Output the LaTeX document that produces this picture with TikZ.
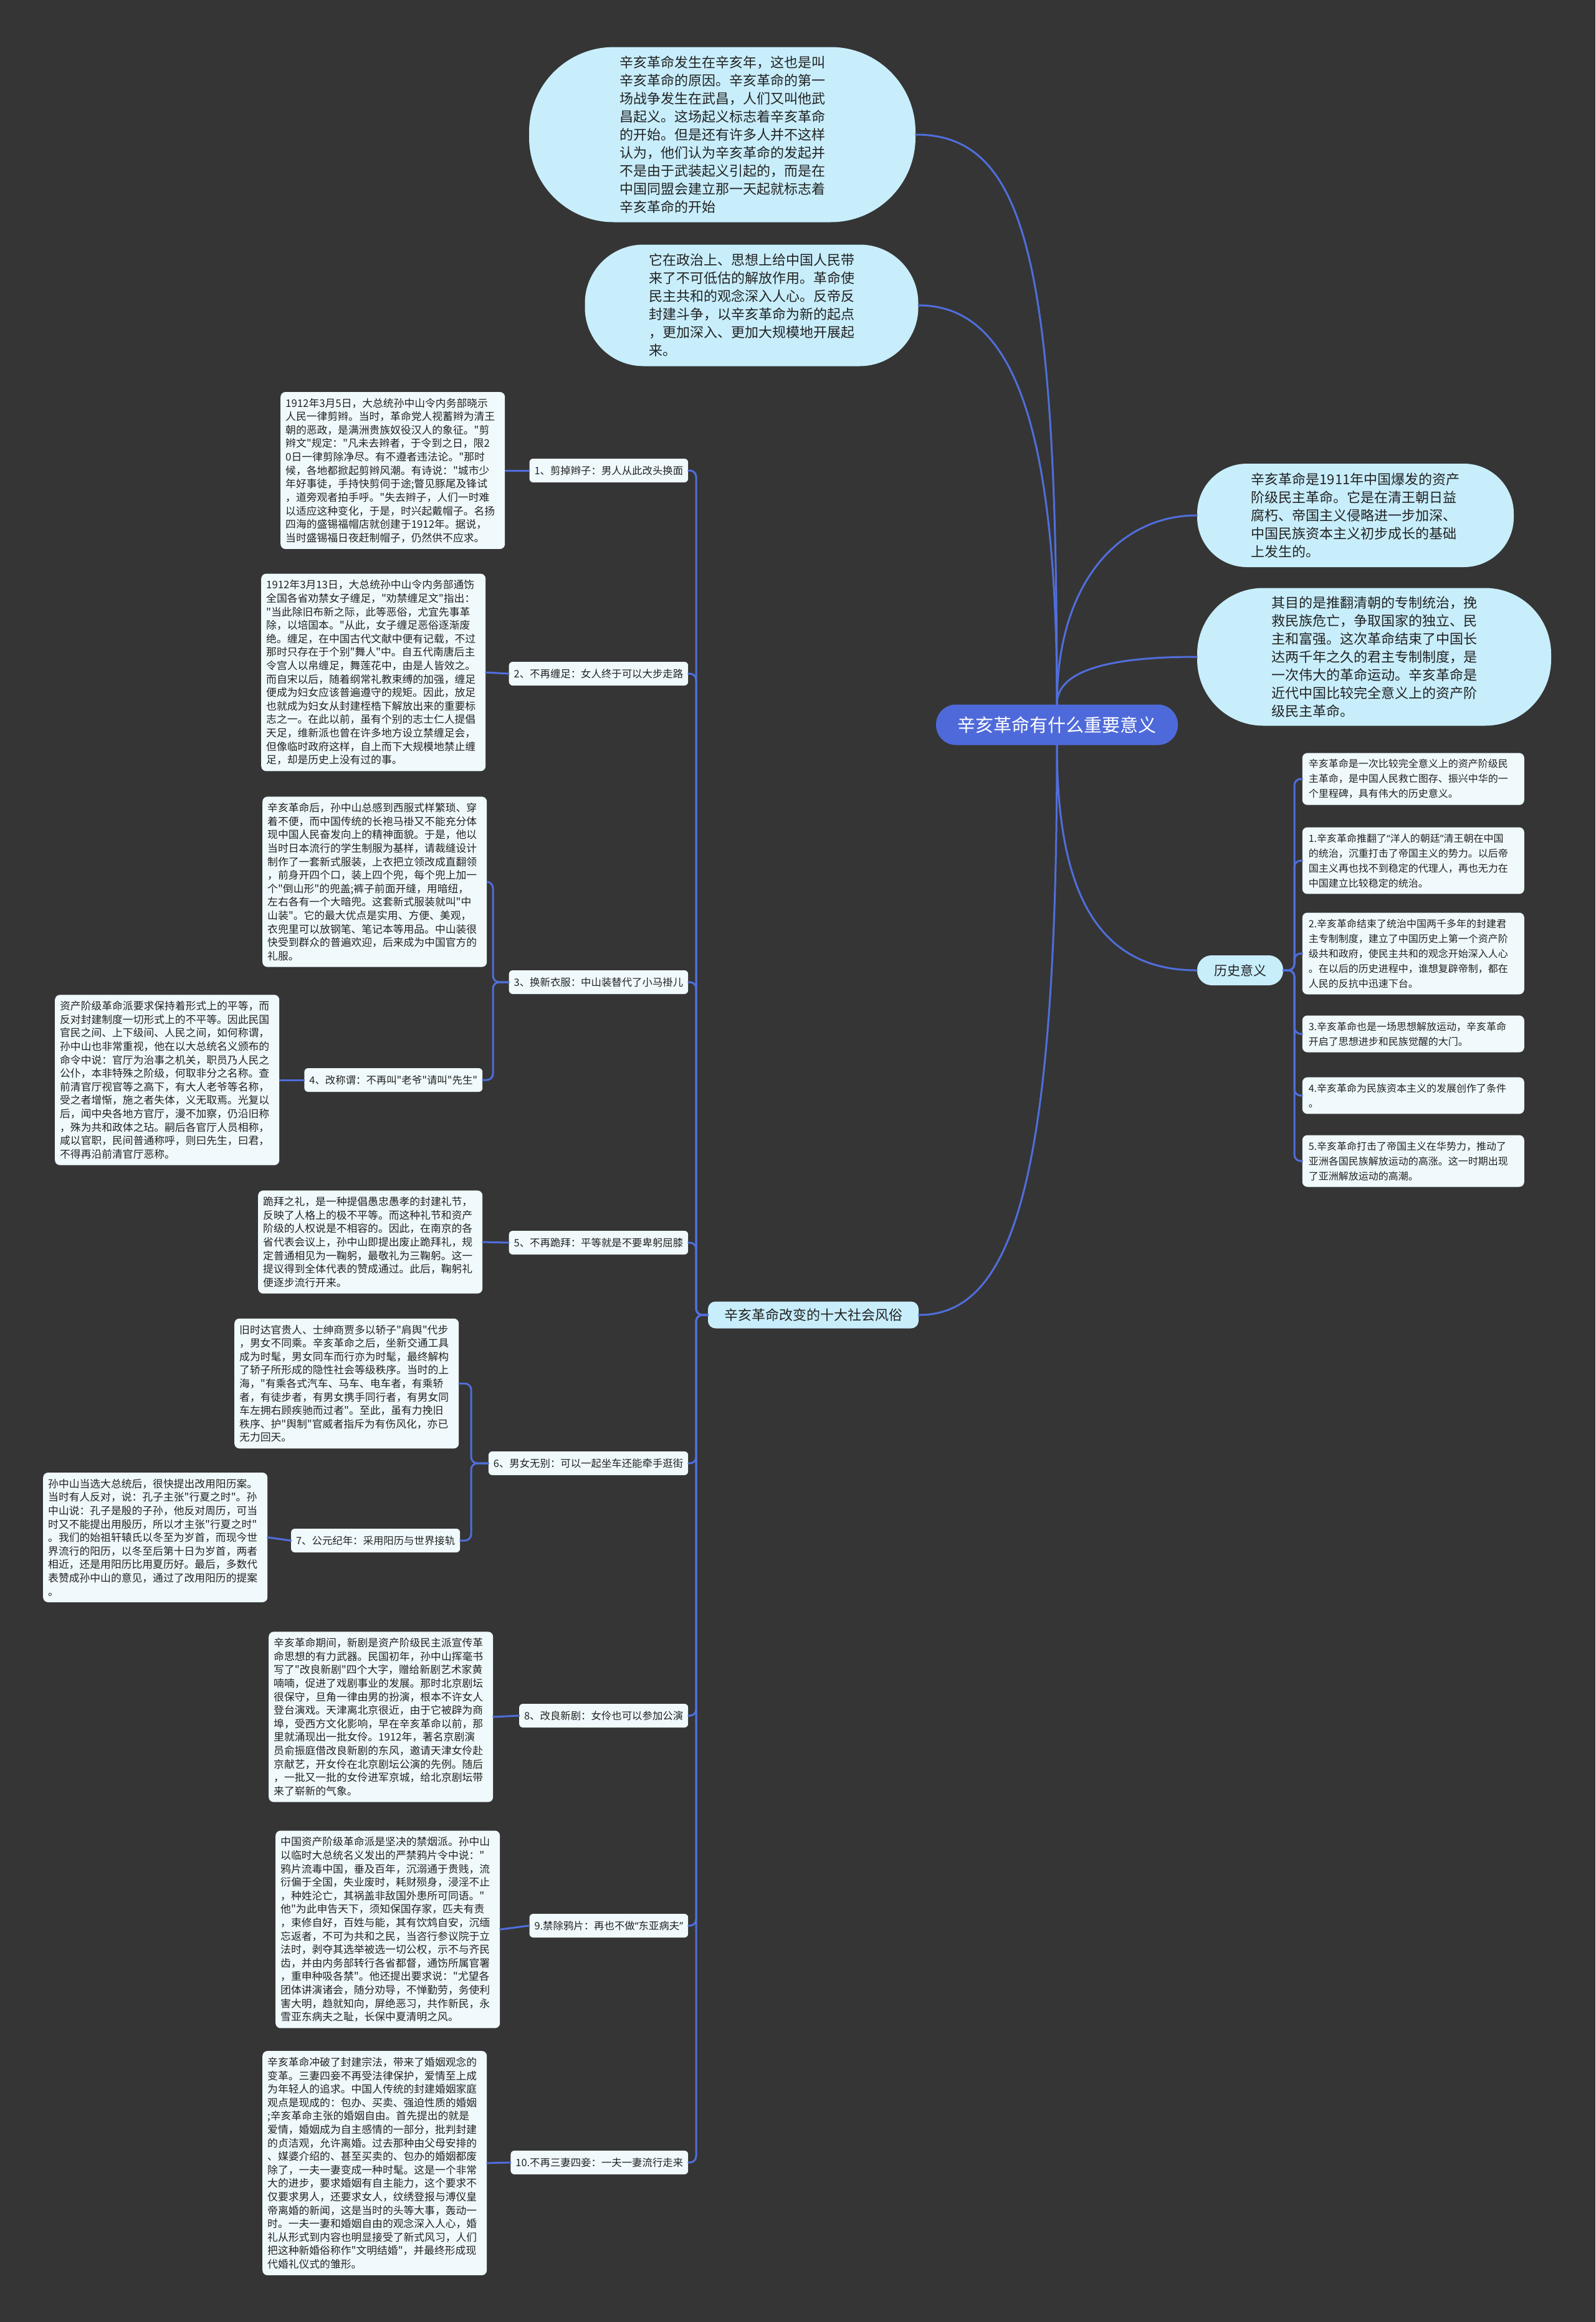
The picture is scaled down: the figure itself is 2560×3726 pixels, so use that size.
\documentclass[tikz,border=0pt]{standalone}
\usepackage{fontspec}
\setmainfont{Noto Sans CJK SC}[Ligatures=TeXOff]
\newfontfamily\latinq{Noto Sans}
\usepackage{tikz}

\begin{document}
\begin{tikzpicture}[x=0.25pt,y=-0.25pt,line cap=rect,
    conn/.style={line width=0.75pt, custcol_50_6e_dc, rounded corners=2.5pt},
    bubble/.style={fill=custcol_c8_ee_fc, text=custcol_22_22_22, align=left, inner sep=0pt,
      font=\fontsize{5.5pt}{7.25pt}\selectfont},
    note/.style={fill=custcol_f0_fa_fc, text=custcol_22_22_22, rounded corners=2pt, anchor=east,
      text width=86pt, inner xsep=2pt, inner ysep=2.5pt, align=left,
      font=\fontsize{4.2pt}{5.4pt}\selectfont},
    topic/.style={fill=custcol_f0_fa_fc, text=custcol_22_22_22, rounded corners=1.5pt, anchor=east,
      inner xsep=2pt, inner ysep=0pt, minimum height=9.5pt, font=\fontsize{4.1pt}{5pt}\selectfont},
    item/.style={fill=custcol_f0_fa_fc, text=custcol_22_22_22, rounded corners=2pt, anchor=west,
      text width=84pt, inner xsep=2.5pt, inner ysep=2.5pt, align=left,
      font=\fontsize{4pt}{6pt}\selectfont},
    branch/.style={fill=custcol_c8_ee_fc, text=custcol_22_22_22, inner sep=0pt}]
  \def\lq{{\latinq “}}
  \def\rq{{\latinq ”}}
  \definecolor{custcol_35_35_35}{RGB}{53, 53, 53}
  \definecolor{custcol_50_6e_dc}{RGB}{80, 110, 220}
  \definecolor{custcol_4e_6a_da}{RGB}{78, 106, 218}
  \definecolor{custcol_c8_ee_fc}{RGB}{200, 238, 252}
  \definecolor{custcol_f0_fa_fc}{RGB}{240, 250, 252}
  \definecolor{custcol_22_22_22}{RGB}{34, 34, 34}
  \fill [custcol_35_35_35] (0,0) rectangle (2560,3726);
  \useasboundingbox (0,0) rectangle (2560,3726);

  % centre
  \node[fill=custcol_4e_6a_da, text=white, rounded corners=8pt, inner sep=0pt, minimum width=97pt,
    minimum height=16.25pt, font=\fontsize{7.25pt}{8pt}\selectfont] (root) at (1696,1163) {辛亥革命有什么重要意义};

  \node[bubble, minimum width=155pt, minimum height=70.25pt, rounded corners=34pt] (bub1) at (1159,216)
    {辛亥革命发生在辛亥年，这也是叫\\辛亥革命的原因。辛亥革命的第一\\场战争发生在武昌，人们又叫他武\\昌起义。这场起义标志着辛亥革命\\的开始。但是还有许多人并不这样\\认为，他们认为辛亥革命的发起并\\不是由于武装起义引起的，而是在\\中国同盟会建立那一天起就标志着\\辛亥革命的开始};
  \node[bubble, minimum width=133.75pt, minimum height=48.75pt, rounded corners=23.5pt] (bub2) at (1206,490)
    {它在政治上、思想上给中国人民带\\来了不可低估的解放作用。革命使\\民主共和的观念深入人心。反帝反\\封建斗争，以辛亥革命为新的起点\\，更加深入、更加大规模地开展起\\来。};
  \node[bubble, minimum width=127pt, minimum height=41.5pt, rounded corners=20pt] (bub3) at (2175,827)
    {辛亥革命是1911年中国爆发的资产\\阶级民主革命。它是在清王朝日益\\腐朽、帝国主义侵略进一步加深、\\中国民族资本主义初步成长的基础\\上发生的。};
  \node[bubble, minimum width=142pt, minimum height=55.25pt, rounded corners=26.5pt] (bub4) at (2205,1054)
    {其目的是推翻清朝的专制统治，挽\\救民族危亡，争取国家的独立、民\\主和富强。这次革命结束了中国长\\达两千年之久的君主专制制度，是\\一次伟大的革命运动。辛亥革命是\\近代中国比较完全意义上的资产阶\\级民主革命。};

  \draw[conn] (root.north) .. controls +(0,-700) and +(180,0) .. (bub1.east);
  \draw[conn] (root.north) .. controls +(0,-450) and +(150,0) .. (bub2.east);
  \draw[conn] (root.north) .. controls +(0,-200) and +(-120,0) .. (bub3.west);
  \draw[conn] (root.north) .. controls +(0,-60) and +(-120,0) .. (bub4.west);

  % history
  \node[branch, minimum width=34.5pt, minimum height=12pt, rounded corners=5.8pt,
    font=\fontsize{5.25pt}{6pt}\selectfont] (hist) at (1990,1557) {历史意义};
  \draw[conn] (root.south) .. controls +(0,250) and +(-150,0) .. (hist.west);
  \node[item] (h0) at (2089,1250) {辛亥革命是一次比较完全意义上的资产阶级民\\主革命，是中国人民救亡图存、振兴中华的一\\个里程碑，具有伟大的历史意义。};
  \node[item] (h1) at (2089,1381) {1.辛亥革命推翻了\lq 洋人的朝廷\rq 清王朝在中国\\的统治，沉重打击了帝国主义的势力。以后帝\\国主义再也找不到稳定的代理人，再也无力在\\中国建立比较稳定的统治。};
  \node[item] (h2) at (2089,1530) {2.辛亥革命结束了统治中国两千多年的封建君\\主专制制度，建立了中国历史上第一个资产阶\\级共和政府，使民主共和的观念开始深入人心\\。在以后的历史进程中，谁想复辟帝制，都在\\人民的反抗中迅速下台。};
  \node[item] (h3) at (2089,1659) {3.辛亥革命也是一场思想解放运动，辛亥革命\\开启了思想进步和民族觉醒的大门。};
  \node[item] (h4) at (2089,1758) {4.辛亥革命为民族资本主义的发展创作了条件\\。};
  \node[item] (h5) at (2089,1863) {5.辛亥革命打击了帝国主义在华势力，推动了\\亚洲各国民族解放运动的高涨。这一时期出现\\了亚洲解放运动的高潮。};
  \coordinate (htrunk) at (2077,0);
  \foreach \h in {h0,h1,h2,h3,h4,h5}
    \draw[conn] (hist.east) -- (htrunk |- hist.east) -- (htrunk |- \h.west) -- (\h.west);

  % ten customs
  \node[branch, minimum width=84.5pt, minimum height=10.75pt, rounded corners=3pt,
    font=\fontsize{5.5pt}{6pt}\selectfont] (mb) at (1305,2110) {辛亥革命改变的十大社会风俗};
  \draw[conn] (root.south) .. controls +(0,700) and +(150,0) .. (mb.east);

  \node[topic] (l1) at (1105,755) {1、剪掉辫子：男人从此改头换面};
  \node[topic] (l2) at (1105,1081) {2、不再缠足：女人终于可以大步走路};
  \node[topic] (l3) at (1105,1576) {3、换新衣服：中山装替代了小马褂儿};
  \node[topic] (l4) at (775,1733) {4、改称谓：不再叫"老爷"请叫"先生"};
  \node[topic] (l5) at (1105,1994) {5、不再跪拜：平等就是不要卑躬屈膝};
  \node[topic] (l6) at (1105,2348) {6、男女无别：可以一起坐车还能牵手逛街};
  \node[topic] (l7) at (739,2472) {7、公元纪年：采用阳历与世界接轨};
  \node[topic] (l8) at (1105,2753) {8、改良新剧：女伶也可以参加公演};
  \node[topic] (l9) at (1105,3090) {9.禁除鸦片：再也不做\lq 东亚病夫\rq};
  \node[topic] (l10) at (1105,3470) {10.不再三妻四妾：一夫一妻流行走来};
  \coordinate (trunk) at (1117,0);
  \foreach \l in {l1,l2,l3,l5,l6,l8,l9,l10}
    \draw[conn] (mb.west) -- (trunk |- mb.west) -- (trunk |- \l.east) -- (\l.east);

  \node[note] (b1) at (811,755) {1912年3月5日，大总统孙中山令内务部晓示\\人民一律剪辫。当时，革命党人视蓄辫为清王\\朝的恶政，是满洲贵族奴役汉人的象征。"剪\\辫文"规定："凡未去辫者，于令到之日，限2\\0日一律剪除净尽。有不遵者违法论。"那时\\候，各地都掀起剪辫风潮。有诗说："城市少\\年好事徒，手持快剪伺于途;瞥见豚尾及锋试\\，道旁观者拍手呼。"失去辫子，人们一时难\\以适应这种变化，于是，时兴起戴帽子。名扬\\四海的盛锡福帽店就创建于1912年。据说，\\当时盛锡福日夜赶制帽子，仍然供不应求。};
  \node[note] (b2) at (780,1079) {1912年3月13日，大总统孙中山令内务部通饬\\全国各省劝禁女子缠足，"劝禁缠足文"指出：\\"当此除旧布新之际，此等恶俗，尤宜先事革\\除，以培国本。"从此，女子缠足恶俗逐渐废\\绝。缠足，在中国古代文献中便有记载，不过\\那时只存在于个别"舞人"中。自五代南唐后主\\令宫人以帛缠足，舞莲花中，由是人皆效之。\\而自宋以后，随着纲常礼教束缚的加强，缠足\\便成为妇女应该普遍遵守的规矩。因此，放足\\也就成为妇女从封建桎梏下解放出来的重要标\\志之一。在此以前，虽有个别的志士仁人提倡\\天足，维新派也曾在许多地方设立禁缠足会，\\但像临时政府这样，自上而下大规模地禁止缠\\足，却是历史上没有过的事。};
  \node[note] (b3) at (782,1415) {辛亥革命后，孙中山总感到西服式样繁琐、穿\\着不便，而中国传统的长袍马褂又不能充分体\\现中国人民奋发向上的精神面貌。于是，他以\\当时日本流行的学生制服为基样，请裁缝设计\\制作了一套新式服装，上衣把立领改成直翻领\\，前身开四个口，装上四个兜，每个兜上加一\\个"倒山形"的兜盖;裤子前面开缝，用暗纽，\\左右各有一个大暗兜。这套新式服装就叫"中\\山装"。它的最大优点是实用、方便、美观，\\衣兜里可以放钢笔、笔记本等用品。中山装很\\快受到群众的普遍欢迎，后来成为中国官方的\\礼服。};
  \node[note] (b4) at (449,1733) {资产阶级革命派要求保持着形式上的平等，而\\反对封建制度一切形式上的不平等。因此民国\\官民之间、上下级间、人民之间，如何称谓，\\孙中山也非常重视，他在以大总统名义颁布的\\命令中说：官厅为治事之机关，职员乃人民之\\公仆，本非特殊之阶级，何取非分之名称。查\\前清官厅视官等之高下，有大人老爷等名称，\\受之者增惭，施之者失体，义无取焉。光复以\\后，闻中央各地方官厅，漫不加察，仍沿旧称\\，殊为共和政体之玷。嗣后各官厅人员相称，\\咸以官职，民间普通称呼，则曰先生，曰君，\\不得再沿前清官厅恶称。};
  \node[note] (b5) at (775,1993) {跪拜之礼，是一种提倡愚忠愚孝的封建礼节，\\反映了人格上的极不平等。而这种礼节和资产\\阶级的人权说是不相容的。因此，在南京的各\\省代表会议上，孙中山即提出废止跪拜礼，规\\定普通相见为一鞠躬，最敬礼为三鞠躬。这一\\提议得到全体代表的赞成通过。此后，鞠躬礼\\便逐步流行开来。};
  \node[note] (b6) at (737,2220) {旧时达官贵人、士绅商贾多以轿子"肩舆"代步\\，男女不同乘。辛亥革命之后，坐新交通工具\\成为时髦，男女同车而行亦为时髦，最终解构\\了轿子所形成的隐性社会等级秩序。当时的上\\海，"有乘各式汽车、马车、电车者，有乘轿\\者，有徒步者，有男女携手同行者，有男女同\\车左拥右顾疾驰而过者"。至此，虽有力挽旧\\秩序、护"舆制"官威者指斥为有伤风化，亦已\\无力回天。};
  \node[note] (b7) at (430,2467) {孙中山当选大总统后，很快提出改用阳历案。\\当时有人反对，说：孔子主张"行夏之时"。孙\\中山说：孔子是殷的子孙，他反对周历，可当\\时又不能提出用殷历，所以才主张"行夏之时"\\。我们的始祖轩辕氏以冬至为岁首，而现今世\\界流行的阳历，以冬至后第十日为岁首，两者\\相近，还是用阳历比用夏历好。最后，多数代\\表赞成孙中山的意见，通过了改用阳历的提案\\。};
  \node[note] (b8) at (792,2755) {辛亥革命期间，新剧是资产阶级民主派宣传革\\命思想的有力武器。民国初年，孙中山挥毫书\\写了"改良新剧"四个大字，赠给新剧艺术家黄\\喃喃，促进了戏剧事业的发展。那时北京剧坛\\很保守，旦角一律由男的扮演，根本不许女人\\登台演戏。天津离北京很近，由于它被辟为商\\埠，受西方文化影响，早在辛亥革命以前，那\\里就涌现出一批女伶。1912年，著名京剧演\\员俞振庭借改良新剧的东风，邀请天津女伶赴\\京献艺，开女伶在北京剧坛公演的先例。随后\\，一批又一批的女伶进军京城，给北京剧坛带\\来了崭新的气象。};
  \node[note] (b9) at (803,3096) {中国资产阶级革命派是坚决的禁烟派。孙中山\\以临时大总统名义发出的严禁鸦片令中说："\\鸦片流毒中国，垂及百年，沉溺通于贵贱，流\\衍偏于全国，失业废时，耗财殒身，浸淫不止\\，种姓沦亡，其祸盖非敌国外患所可同语。"\\他"为此申告天下，须知保国存家，匹夫有责\\，束修自好，百姓与能，其有饮鸩自安，沉缅\\忘返者，不可为共和之民，当咨行参议院于立\\法时，剥夺其选举被选一切公权，示不与齐民\\齿，并由内务部转行各省都督，通饬所属官署\\，重申种吸各禁"。他还提出要求说："尤望各\\团体讲演诸会，随分劝导，不惮勤劳，务使利\\害大明，趋就知向，屏绝恶习，共作新民，永\\雪亚东病夫之耻，长保中夏清明之风。};
  \node[note] (b10) at (782,3471) {辛亥革命冲破了封建宗法，带来了婚姻观念的\\变革。三妻四妾不再受法律保护，爱情至上成\\为年轻人的追求。中国人传统的封建婚姻家庭\\观点是现成的：包办、买卖、强迫性质的婚姻\\;辛亥革命主张的婚姻自由。首先提出的就是\\爱情，婚姻成为自主感情的一部分，批判封建\\的贞洁观，允许离婚。过去那种由父母安排的\\、媒婆介绍的、甚至买卖的、包办的婚姻都废\\除了，一夫一妻变成一种时髦。这是一个非常\\大的进步，要求婚姻有自主能力，这个要求不\\仅要求男人，还要求女人，纹绣登报与溥仪皇\\帝离婚的新闻，这是当时的头等大事，轰动一\\时。一夫一妻和婚姻自由的观念深入人心，婚\\礼从形式到内容也明显接受了新式风习，人们\\把这种新婚俗称作"文明结婚"，并最终形成现\\代婚礼仪式的雏形。};

  \foreach \l/\b in {l1/b1,l2/b2,l4/b4,l5/b5,l7/b7,l8/b8,l9/b9,l10/b10}
    \draw[conn] (\l.west) -- (\b.east);
  \coordinate (fork3) at (791,0);
  \draw[conn] (l3.west) -- (fork3 |- l3.west) -- (fork3 |- b3.east) -- (b3.east);
  \draw[conn] (l3.west) -- (fork3 |- l3.west) -- (fork3 |- l4.east) -- (l4.east);
  \coordinate (fork6) at (756,0);
  \draw[conn] (l6.west) -- (fork6 |- l6.west) -- (fork6 |- b6.east) -- (b6.east);
  \draw[conn] (l6.west) -- (fork6 |- l6.west) -- (fork6 |- l7.east) -- (l7.east);
\end{tikzpicture}
\end{document}
